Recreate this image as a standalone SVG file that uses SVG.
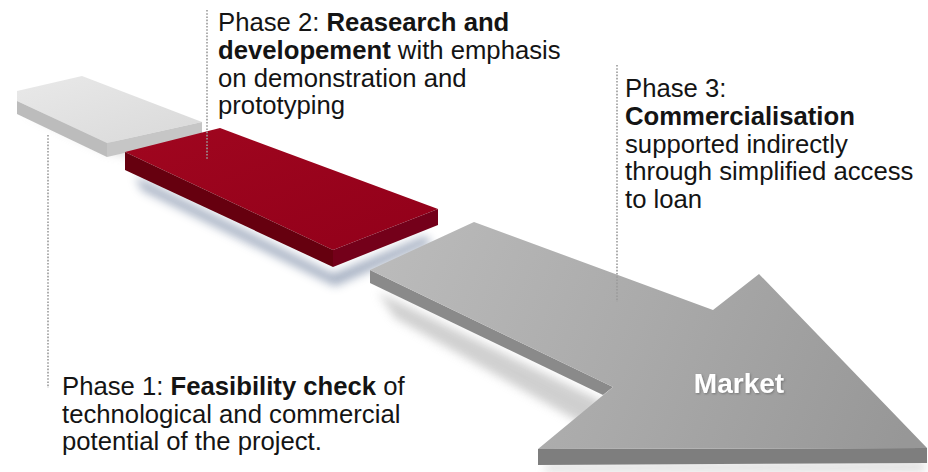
<svg xmlns="http://www.w3.org/2000/svg" width="928" height="472" viewBox="0 0 928 472">
<defs>
<style>
.t{font-family:"Liberation Sans",Arial,sans-serif;font-size:25.7px;fill:#141414}
.b{font-weight:bold}
.lead{stroke:#9a9a9a;stroke-width:1.6;stroke-dasharray:1.6 1.6;fill:none}
.mk{font-family:"Liberation Sans",Arial,sans-serif;font-size:28px;font-weight:bold;fill:#ffffff}
</style>
<filter id="blur" x="-20%" y="-20%" width="140%" height="140%"><feGaussianBlur stdDeviation="5"/></filter>
<filter id="tsh" x="-10%" y="-20%" width="120%" height="140%"><feDropShadow dx="1" dy="1" stdDeviation="1" flood-color="#555" flood-opacity="0.6"/></filter>
<linearGradient id="gTop" x1="0" y1="0" x2="1" y2="1"><stop offset="0" stop-color="#e9e9e9"/><stop offset="1" stop-color="#d9d9d9"/></linearGradient>
<linearGradient id="rTop" x1="0" y1="0" x2="1" y2="1"><stop offset="0" stop-color="#a0061f"/><stop offset="1" stop-color="#92001a"/></linearGradient>
<linearGradient id="aTop" x1="370" y1="230" x2="900" y2="450" gradientUnits="userSpaceOnUse"><stop offset="0" stop-color="#bcbcbc"/><stop offset="0.5" stop-color="#aaaaaa"/><stop offset="1" stop-color="#979797"/></linearGradient>
</defs>
<rect width="928" height="472" fill="#ffffff"/>

<g id="shadows">
<polygon points="25,112 107,152 150,160 60,120" fill="#bbbbbb" opacity="0.6" filter="url(#blur)"/>
<polygon points="135,176 333,274 425,236 432,243 335,286 142,190" fill="#7f8ea8" opacity="0.7" filter="url(#blur)"/>
<polygon points="378,292 603,402 590,428 395,318" fill="#c4c4c4" opacity="0.8" filter="url(#blur)"/>
<polygon points="545,464 925,462 925,472 545,472" fill="#cfcfcf" opacity="0.7" filter="url(#blur)"/>
</g>

<g id="phase1-slab">
<polygon points="17,91 82,76 202,122 107,143 17,101" fill="url(#gTop)"/>
<polygon points="17,101 107,143 107,157 17,114" fill="#bcbcbc"/>
<polygon points="107,143 202,122 202,135 107,157" fill="#c6c6c6"/>
</g>

<g id="phase2-slab">
<polygon points="125,152 220,128 438,209 333,250" fill="url(#rTop)"/>
<polygon points="125,152 333,250 333,267 125,170" fill="#66000f"/>
<polygon points="333,250 438,209 438,225 333,267" fill="#74001a"/>
</g>

<g id="market-arrow">
<polygon points="370,270 613,387 603,395 370,283" fill="#8a8a8a"/>
<polygon points="538,449 927,448 927,463 538,465" fill="#7e7e7e"/>
<polygon points="370,270 474,222 713,310 759,274 927,448 538,449 613,387" fill="url(#aTop)"/>
<text class="mk" x="739" y="393" text-anchor="middle" filter="url(#tsh)">Market</text>
</g>

<g id="connectors">
<line class="lead" x1="48" y1="135" x2="48" y2="388"/>
<line class="lead" x1="207" y1="10" x2="207" y2="160"/>
<line class="lead" x1="617" y1="65" x2="617" y2="302"/>
</g>

<g id="phase1-label">
<text class="t" x="62" y="395">Phase 1: <tspan class="b">Feasibility check</tspan> of</text>
<text class="t" x="62" y="423">technological and commercial</text>
<text class="t" x="62" y="450">potential of the project.</text>
</g>

<g id="phase2-label">
<text class="t" x="218" y="31">Phase 2: <tspan class="b">Reasearch  and</tspan></text>
<text class="t" x="218" y="59"><tspan class="b">developement</tspan> with emphasis</text>
<text class="t" x="218" y="87">on demonstration and</text>
<text class="t" x="218" y="114">prototyping</text>
</g>

<g id="phase3-label">
<text class="t" x="625" y="97">Phase 3:</text>
<text class="t b" x="625" y="125">Commercialisation</text>
<text class="t" x="625" y="153">supported indirectly</text>
<text class="t" x="625" y="180">through simplified access</text>
<text class="t" x="625" y="208">to loan</text>
</g>
</svg>
